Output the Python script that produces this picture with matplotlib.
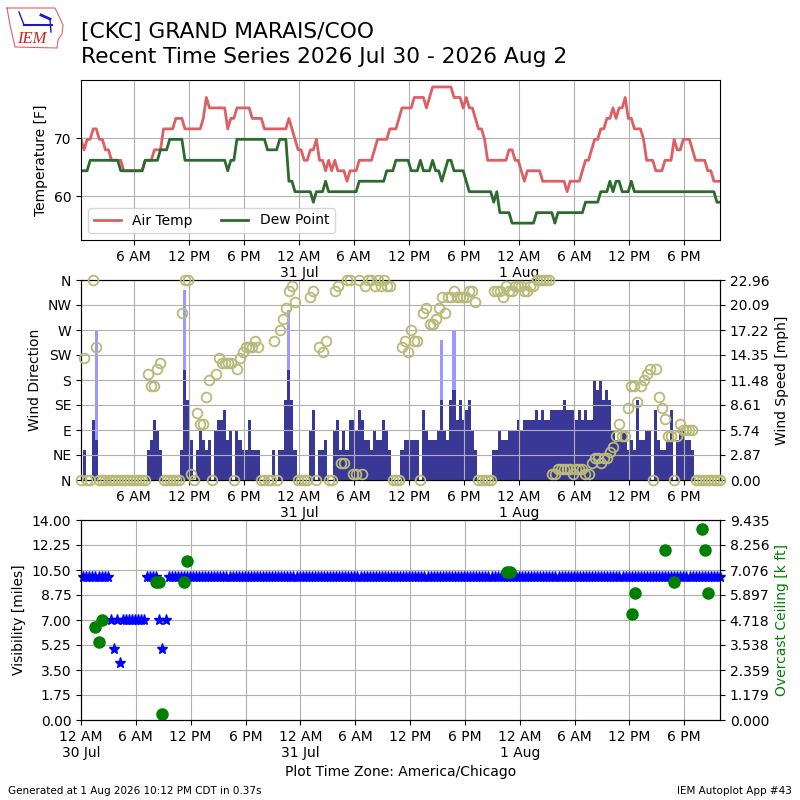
import matplotlib
matplotlib.use("Agg")
import matplotlib.pyplot as plt
import matplotlib.dates as mdates
from matplotlib.ticker import FuncFormatter
from matplotlib.lines import Line2D
import numpy as np
import pandas as pd

# observation times (20 minute AWOS reports)
times = pd.date_range("2026-07-30 00:15", periods=210, freq="20min").to_pydatetime()

tmpf = [69.8, 68, 69.8, 69.8, 71.6, 71.6, 69.8, 69.8, 68, 68,
        66.2, 66.2, 66.2, 66.2, 64.4, 64.4, 64.4, 64.4, 64.4, 64.4,
        64.4, 66.2, 66.2, 66.2, 68, 68, 68, 71.6, 71.6, 71.6,
        71.6, 73.4, 73.4, 73.4, 71.6, 71.6, 71.6, 71.6, 71.6, 71.6,
        73.4, 77, 75.2, 75.2, 75.2, 75.2, 75.2, 75.2, 71.6, 73.4,
        73.4, 75.2, 75.2, 75.2, 75.2, 75.2, 73.4, 73.4, 73.4, 73.4,
        71.6, 71.6, 71.6, 71.6, 71.6, 71.6, 71.6, 71.6, 73.4, 71.6,
        69.8, 68, 68, 66.2, 66.2, 68, 68, 69.8, 66.2, 66.2,
        64.4, 66.2, 64.4, 66.2, 64.4, 64.4, 64.4, 62.6, 64.4, 64.4,
        64.4, 66.2, 66.2, 66.2, 66.2, 66.2, 68, 69.8, 69.8, 69.8,
        69.8, 71.6, 71.6, 71.6, 73.4, 75.2, 75.2, 75.2, 75.2, 77,
        77, 77, 77, 75.2, 77, 78.8, 78.8, 78.8, 78.8, 78.8,
        78.8, 78.8, 77, 77, 77, 75.2, 77, 75.2, 75.2, 73.4,
        71.6, 71.6, 69.8, 66.2, 66.2, 66.2, 66.2, 66.2, 66.2, 66.2,
        68, 68, 66.2, 66.2, 64.4, 62.6, 64.4, 64.4, 64.4, 64.4,
        64.4, 62.6, 62.6, 62.6, 62.6, 62.6, 62.6, 62.6, 62.6, 60.8,
        62.6, 62.6, 62.6, 62.6, 64.4, 66.2, 66.2, 68, 69.8, 69.8,
        71.6, 71.6, 73.4, 73.4, 75.2, 73.4, 75.2, 75.2, 77, 73.4,
        73.4, 71.6, 71.6, 71.6, 69.8, 66.2, 66.2, 66.2, 64.4, 64.4,
        64.4, 66.2, 66.2, 66.2, 69.8, 68, 68, 69.8, 69.8, 69.8,
        68, 66.2, 66.2, 66.2, 66.2, 64.4, 64.4, 62.6, 62.6, 62.6]

dwpf = [64.4, 64.4, 64.4, 66.2, 66.2, 66.2, 66.2, 66.2, 66.2, 66.2,
        66.2, 66.2, 66.2, 64.4, 64.4, 64.4, 64.4, 64.4, 64.4, 64.4,
        64.4, 66.2, 66.2, 66.2, 66.2, 66.2, 68, 68, 68, 69.8,
        69.8, 69.8, 69.8, 69.8, 66.2, 66.2, 66.2, 66.2, 66.2, 66.2,
        66.2, 66.2, 66.2, 66.2, 66.2, 66.2, 66.2, 66.2, 64.4, 66.2,
        66.2, 69.8, 69.8, 69.8, 69.8, 69.8, 69.8, 69.8, 69.8, 69.8,
        69.8, 68, 68, 68, 68, 69.8, 69.8, 69.8, 62.6, 62.6,
        60.8, 60.8, 60.8, 60.8, 60.8, 60.8, 59, 60.8, 60.8, 60.8,
        62.6, 60.8, 60.8, 60.8, 60.8, 60.8, 60.8, 60.8, 60.8, 60.8,
        60.8, 62.6, 62.6, 62.6, 62.6, 62.6, 62.6, 62.6, 62.6, 62.6,
        64.4, 64.4, 64.4, 66.2, 66.2, 66.2, 66.2, 66.2, 64.4, 64.4,
        64.4, 66.2, 64.4, 64.4, 64.4, 66.2, 64.4, 64.4, 62.6, 64.4,
        66.2, 66.2, 64.4, 64.4, 64.4, 64.4, 62.6, 60.8, 60.8, 60.8,
        60.8, 60.8, 60.8, 60.8, 60.8, 59, 60.8, 57.2, 57.2, 57.2,
        57.2, 55.4, 55.4, 55.4, 55.4, 55.4, 55.4, 55.4, 55.4, 57.2,
        57.2, 57.2, 57.2, 57.2, 57.2, 55.4, 57.2, 57.2, 57.2, 57.2,
        57.2, 57.2, 57.2, 57.2, 57.2, 59, 59, 59, 59, 59,
        60.8, 60.8, 60.8, 62.6, 60.8, 62.6, 62.6, 60.8, 60.8, 60.8,
        62.6, 60.8, 60.8, 60.8, 60.8, 60.8, 60.8, 60.8, 60.8, 60.8,
        60.8, 60.8, 60.8, 60.8, 60.8, 60.8, 60.8, 60.8, 60.8, 60.8,
        60.8, 60.8, 60.8, 60.8, 60.8, 60.8, 60.8, 60.8, 59, 59]

# wind speed and gust in knots, direction in degrees
sknt = [0, 3, 0, 0, 6, 4, 0, 0, 0, 0,
        0, 0, 0, 0, 0, 0, 0, 0, 0, 0,
        0, 0, 3, 4, 6, 5, 3, 0, 0, 0,
        0, 0, 0, 3, 11, 8, 4, 0, 3, 5,
        4, 3, 4, 0, 5, 6, 6, 7, 4, 5,
        0, 5, 4, 3, 3, 6, 3, 3, 3, 0,
        0, 0, 0, 3, 0, 3, 3, 8, 11, 8,
        3, 0, 0, 0, 0, 5, 7, 0, 3, 3,
        4, 0, 0, 5, 6, 3, 5, 3, 6, 6,
        5, 7, 6, 4, 4, 3, 5, 4, 4, 6,
        5, 3, 0, 0, 0, 3, 4, 4, 4, 4,
        4, 0, 7, 5, 4, 4, 4, 5, 8, 5,
        4, 8, 9, 6, 8, 6, 7, 8, 5, 3,
        0, 0, 0, 0, 0, 3, 3, 5, 4, 4,
        5, 5, 5, 6, 5, 6, 6, 6, 6, 7,
        6, 7, 6, 6, 7, 7, 7, 7, 8, 7,
        7, 7, 6, 7, 6, 7, 6, 6, 10, 9,
        10, 8, 9, 8, 5, 4, 4, 5, 5, 3,
        4, 3, 8, 4, 4, 5, 5, 0, 7, 4,
        3, 3, 4, 7, 0, 4, 5, 5, 4, 4,
        3, 0, 0, 0, 0, 0, 0, 0, 0, 0]

gust = [np.nan] * 210
gust[5] = 15
gust[34] = 19
gust[68] = 17
gust[118] = 14
gust[122] = 15

drct = [0, 220, 0, 0, 360, 240, 0, 0, 0, 0,
        0, 0, 0, 0, 0, 0, 0, 0, 0, 0,
        0, 0, 190, 170, 170, 200, 210, 0, 0, 0,
        0, 0, 0, 300, 360, 360, 10, 0, 120, 100,
        100, 150, 180, 0, 190, 220, 210, 210, 210, 210,
        0, 200, 220, 230, 240, 240, 240, 250, 240, 0,
        0, 0, 0, 250, 0, 270, 290, 310, 340, 350,
        320, 0, 0, 0, 0, 330, 340, 0, 240, 230,
        250, 0, 0, 340, 350, 30, 30, 360, 360, 10,
        10, 360, 10, 350, 360, 360, 350, 360, 350, 360,
        350, 350, 0, 0, 0, 240, 250, 230, 270, 250,
        250, 0, 300, 310, 280, 280, 290, 310, 330, 300,
        330, 330, 340, 330, 330, 330, 330, 340, 340, 320,
        0, 0, 0, 0, 0, 340, 340, 340, 330, 350,
        340, 340, 350, 350, 350, 340, 340, 350, 350, 360,
        360, 360, 360, 360, 10, 10, 20, 20, 20, 20,
        20, 10, 20, 20, 20, 10, 10, 30, 40, 40,
        30, 40, 40, 50, 60, 80, 100, 80, 80, 130,
        170, 170, 140, 170, 180, 190, 200, 0, 200, 150,
        130, 110, 80, 80, 0, 80, 100, 90, 90, 90,
        90, 0, 0, 0, 0, 0, 0, 0, 0, 0]

vsby = [10, 10, 10, 10, 10, 10, 10, 10, 10, 7,
        5, 7, 4, 7, 7, 7, 7, 7, 7, 7,
        7, 10, 10, 10, 10, 7, 5, 7] + [10] * 182

# overcast ceiling reports [k ft]: observation index, value
ceil_idx = [4, 5, 6, 24, 25, 26, 33, 34, 139, 140, 180, 181, 191, 194, 203, 204, 205]
ceil_val = [4.4, 3.7, 4.7, 6.5, 6.5, 0.3, 6.5, 7.5, 7.0, 7.0, 5.0, 6.0, 8.0, 6.5, 9.0, 8.0, 6.0]

KT2MPH = 1.15078
smph = np.array(sknt) * KT2MPH
gmph = np.array(gust) * KT2MPH
ceil_times = [times[i] for i in ceil_idx]


def timefmt(x, pos=None):
    dt = mdates.num2date(x)
    s = dt.strftime("%-I %p")
    if dt.hour == 0:
        s += "\n" + dt.strftime("%-d %b")
    return s


def setup_time(ax):
    ax.xaxis.set_major_locator(mdates.HourLocator(byhour=[0, 6, 12, 18]))
    ax.xaxis.set_major_formatter(FuncFormatter(timefmt))
    ax.grid(True, color="#b0b0b0", lw=0.8)


fig = plt.figure(figsize=(8, 8), dpi=100)

# --- temperature panel
ax1 = fig.add_axes([0.10125, 0.70, 0.79875, 0.20])
ax1.plot(times, tmpf, color="#dd5f63", lw=2, label="Air Temp")
ax1.plot(times, dwpf, color="#2d6a2f", lw=2, label="Dew Point")
ax1.set_xlim(times[0], times[-1])
ax1.set_ylim(52.5, 80)
ax1.set_yticks([60, 70])
ax1.set_ylabel("Temperature [F]")
setup_time(ax1)
ax1.legend(loc="lower left", ncol=2)

# --- wind panel
ax2 = fig.add_axes([0.10125, 0.40, 0.79875, 0.25])
ax2b = ax2.twinx()
ax2b.bar(times, gmph, width=1 / 72.0, color="#9999ff", lw=0)
ax2b.bar(times, smph, width=1 / 72.0, color="#3a3896", lw=0)
ax2b.set_ylim(0, 22.96)
ax2b.set_yticks(np.linspace(0, 22.96, 9))
ax2b.yaxis.set_major_formatter(FuncFormatter(lambda v, p: "%.2f" % v))
ax2b.set_ylabel("Wind Speed [mph]")
ax2.set_zorder(ax2b.get_zorder() + 1)
ax2.patch.set_visible(False)
ax2.plot(times, drct, "o", mfc="none", mec="#b8ba78", ms=7, mew=1.3,
         clip_on=False, zorder=5)
ax2.set_ylim(0, 360)
ax2.set_yticks(range(0, 361, 45))
ax2.set_yticklabels(["N", "NE", "E", "SE", "S", "SW", "W", "NW", "N"])
ax2.set_ylabel("Wind Direction")
ax2.set_xlim(times[0], times[-1])
setup_time(ax2)

# --- visibility / ceiling panel
ax3 = fig.add_axes([0.10125, 0.10, 0.79875, 0.25])
ax3.plot(times, vsby, "*", color="blue", ms=8, clip_on=False)
ax3.set_ylim(0, 14)
ax3.set_yticks(np.linspace(0, 14, 9))
ax3.yaxis.set_major_formatter(FuncFormatter(lambda v, p: "%.2f" % v))
ax3.set_ylabel("Visibility [miles]")
ax3.set_xlim(pd.Timestamp("2026-07-30 00:00").to_pydatetime(), times[-1])
setup_time(ax3)
ax3.set_xlabel("Plot Time Zone: America/Chicago")
ax3b = ax3.twinx()
ax3b.plot(ceil_times, ceil_val, "o", color="green", ms=8, clip_on=False)
ax3b.set_ylim(0, 9.435)
ax3b.set_yticks(np.linspace(0, 9.435, 9))
ax3b.yaxis.set_major_formatter(FuncFormatter(lambda v, p: "%.3f" % v))
ax3b.set_ylabel("Overcast Ceiling [k ft]", color="green")

# --- titles and footer
fig.text(0.10125, 0.952, "[CKC] GRAND MARAIS/COO", fontsize=15.7, va="baseline")
fig.text(0.10125, 0.921, "Recent Time Series 2026 Jul 30 - 2026 Aug 2",
         fontsize=15.7, va="baseline")
fig.text(0.01, 0.008, "Generated at 1 Aug 2026 10:12 PM CDT in 0.37s", fontsize=7.5)
fig.text(0.99, 0.008, "IEM Autoplot App #43", fontsize=7.5, ha="right")

# small IEM logo (outline of Iowa, glyph and letters)
px = [7, 55, 58, 63, 62, 58, 57, 15, 13, 10, 7]
py = [8, 8, 14, 25, 34, 40, 48, 47, 38, 25, 8]
fig.add_artist(Line2D([v / 800 for v in px], [1 - v / 800 for v in py],
                      color="#e86060", lw=0.8, transform=fig.transFigure))
fig.add_artist(Line2D([24 / 800, 52 / 800], [1 - 25 / 800, 1 - 25 / 800],
                      color="#1a1acc", lw=1.5, transform=fig.transFigure))
fig.add_artist(Line2D([19 / 800, 24 / 800], [1 - 12 / 800, 1 - 25 / 800],
                      color="#1a1acc", lw=1.0, transform=fig.transFigure))
fig.add_artist(Line2D([41 / 800, 50 / 800], [1 - 15 / 800, 1 - 19 / 800],
                      color="#1a1acc", lw=2.0, transform=fig.transFigure))
fig.add_artist(Line2D([50 / 800, 51 / 800], [1 - 20 / 800, 1 - 32 / 800],
                      color="#1a1acc", lw=1.0, transform=fig.transFigure))
fig.text(17 / 800, 1 - 43 / 800, "IEM", fontsize=12, color="#d02020",
         style="italic", family="Liberation Serif")

fig.savefig("out.png", dpi=100)
